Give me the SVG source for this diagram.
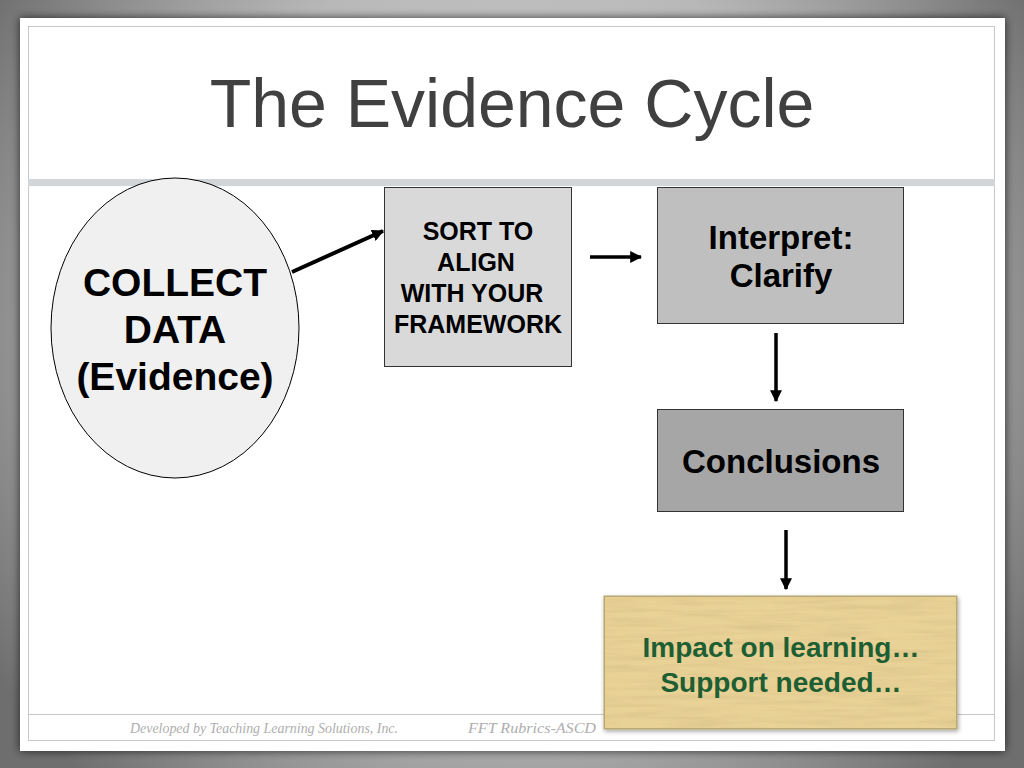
<svg xmlns="http://www.w3.org/2000/svg" width="1024" height="768" viewBox="0 0 1024 768">
<defs>
  <radialGradient id="bg" cx="512" cy="330" r="620" gradientUnits="userSpaceOnUse">
    <stop offset="0" stop-color="#e2e2e2"/>
    <stop offset="0.6" stop-color="#b8b8b8"/>
    <stop offset="1" stop-color="#6e6e6e"/>
  </radialGradient>
  <filter id="shadow" x="-5%" y="-5%" width="110%" height="110%">
    <feGaussianBlur in="SourceAlpha" stdDeviation="5"/>
    <feOffset dx="0" dy="0" result="b"/>
    <feFlood flood-color="#000" flood-opacity="0.7"/>
    <feComposite in2="b" operator="in"/>
    <feMerge><feMergeNode/><feMergeNode in="SourceGraphic"/></feMerge>
  </filter>
  <filter id="boxshadow" x="-5%" y="-5%" width="110%" height="115%">
    <feGaussianBlur in="SourceAlpha" stdDeviation="2"/>
    <feOffset dx="1" dy="2" result="b"/>
    <feFlood flood-color="#000" flood-opacity="0.35"/>
    <feComposite in2="b" operator="in"/>
    <feMerge><feMergeNode/><feMergeNode in="SourceGraphic"/></feMerge>
  </filter>
  <filter id="wood" x="0" y="0" width="100%" height="100%">
    <feTurbulence type="fractalNoise" baseFrequency="0.015 0.2" numOctaves="4" seed="4" result="n"/>
    <feColorMatrix in="n" type="matrix" values="0 0 0 0 0.7  0 0 0 0 0.55  0 0 0 0 0.25  1.6 0 0 0 -0.6" result="c"/>
    <feComposite in="c" in2="SourceAlpha" operator="in" result="t"/>
    <feMerge><feMergeNode in="SourceGraphic"/><feMergeNode in="t"/></feMerge>
  </filter>
  <marker id="ah" viewBox="0 0 10 10" refX="9" refY="5" markerWidth="12" markerHeight="12" markerUnits="userSpaceOnUse" orient="auto">
    <path d="M0,0 L10,5 L0,10 z" fill="#000"/>
  </marker>
  <style>
    .node text { font-family: "Liberation Sans", Arial, sans-serif; font-weight: bold; fill: #000; text-anchor: middle; }
    .conn line { stroke: #000; stroke-width: 3.5; marker-end: url(#ah); }
    .frame { fill: none; stroke: #c8c8c8; stroke-width: 1; }
    .footer { font-family: "Liberation Serif", serif; font-style: italic; font-size: 14px; fill: #aeaeae; }
  </style>
</defs>

<rect x="0" y="0" width="1024" height="768" fill="url(#bg)"/>
<rect x="20" y="18" width="985" height="733" fill="#fff" filter="url(#shadow)"/>
<rect class="frame" x="28.5" y="26.5" width="966" height="714"/>
<rect x="28" y="179" width="967" height="7" fill="#d2d6d9"/>
<line x1="28" y1="714.5" x2="995" y2="714.5" stroke="#c8c8c8" stroke-width="1"/>

<text x="512" y="127" font-family="Liberation Sans, Arial, sans-serif" font-size="68" fill="#404040" text-anchor="middle">The Evidence Cycle</text>

<g id="collect" class="node">
  <ellipse cx="175" cy="328" rx="124" ry="150" fill="#f0f0f0" stroke="#000" stroke-width="1"/>
  <text x="175" y="296" font-size="39">COLLECT</text>
  <text x="175" y="343" font-size="39">DATA</text>
  <text x="175" y="390" font-size="39">(Evidence)</text>
</g>

<g id="sort" class="node">
  <rect x="384.5" y="187.5" width="187" height="179" fill="#d9d9d9" stroke="#333" stroke-width="1"/>
  <text x="478" y="240" font-size="25">SORT TO</text>
  <text x="476" y="271" font-size="25">ALIGN</text>
  <text x="472" y="302" font-size="25">WITH YOUR</text>
  <text x="478" y="333" font-size="25">FRAMEWORK</text>
</g>

<g id="interpret" class="node">
  <rect x="657.5" y="187.5" width="246" height="136" fill="#bfbfbf" stroke="#333" stroke-width="1"/>
  <text x="781" y="249" font-size="33">Interpret:</text>
  <text x="781" y="287" font-size="33">Clarify</text>
</g>

<g id="conclusions" class="node">
  <rect x="657.5" y="409.5" width="246" height="102" fill="#a6a6a6" stroke="#333" stroke-width="1"/>
  <text x="781" y="473" font-size="33">Conclusions</text>
</g>

<g id="impact" class="node">
  <rect x="604" y="596" width="353" height="133" fill="#e9d296" stroke="#b8a874" stroke-width="1" filter="url(#boxshadow)"/>
  <rect x="604.5" y="596.5" width="352" height="132" fill="#e9d296" filter="url(#wood)"/>
  <rect x="604.5" y="596.5" width="352" height="132" fill="none" stroke="#b8a874" stroke-width="1"/>
  <text x="781" y="657" font-size="28" style="fill:#1d5e33">Impact on learning…</text>
  <text x="781" y="692" font-size="28" style="fill:#1d5e33">Support needed…</text>
</g>

<g id="connectors" class="conn">
  <line x1="292" y1="272" x2="383" y2="231" style="stroke-width:4"/>
  <line x1="590" y1="257" x2="641" y2="257"/>
  <line x1="776" y1="333" x2="776" y2="401"/>
  <line x1="786" y1="530" x2="786" y2="589"/>
</g>

<text class="footer" x="130" y="733" textLength="268" lengthAdjust="spacingAndGlyphs">Developed by Teaching Learning Solutions, Inc.</text>
<text class="footer" x="468" y="733" textLength="128" lengthAdjust="spacingAndGlyphs">FFT Rubrics-ASCD</text>
</svg>
